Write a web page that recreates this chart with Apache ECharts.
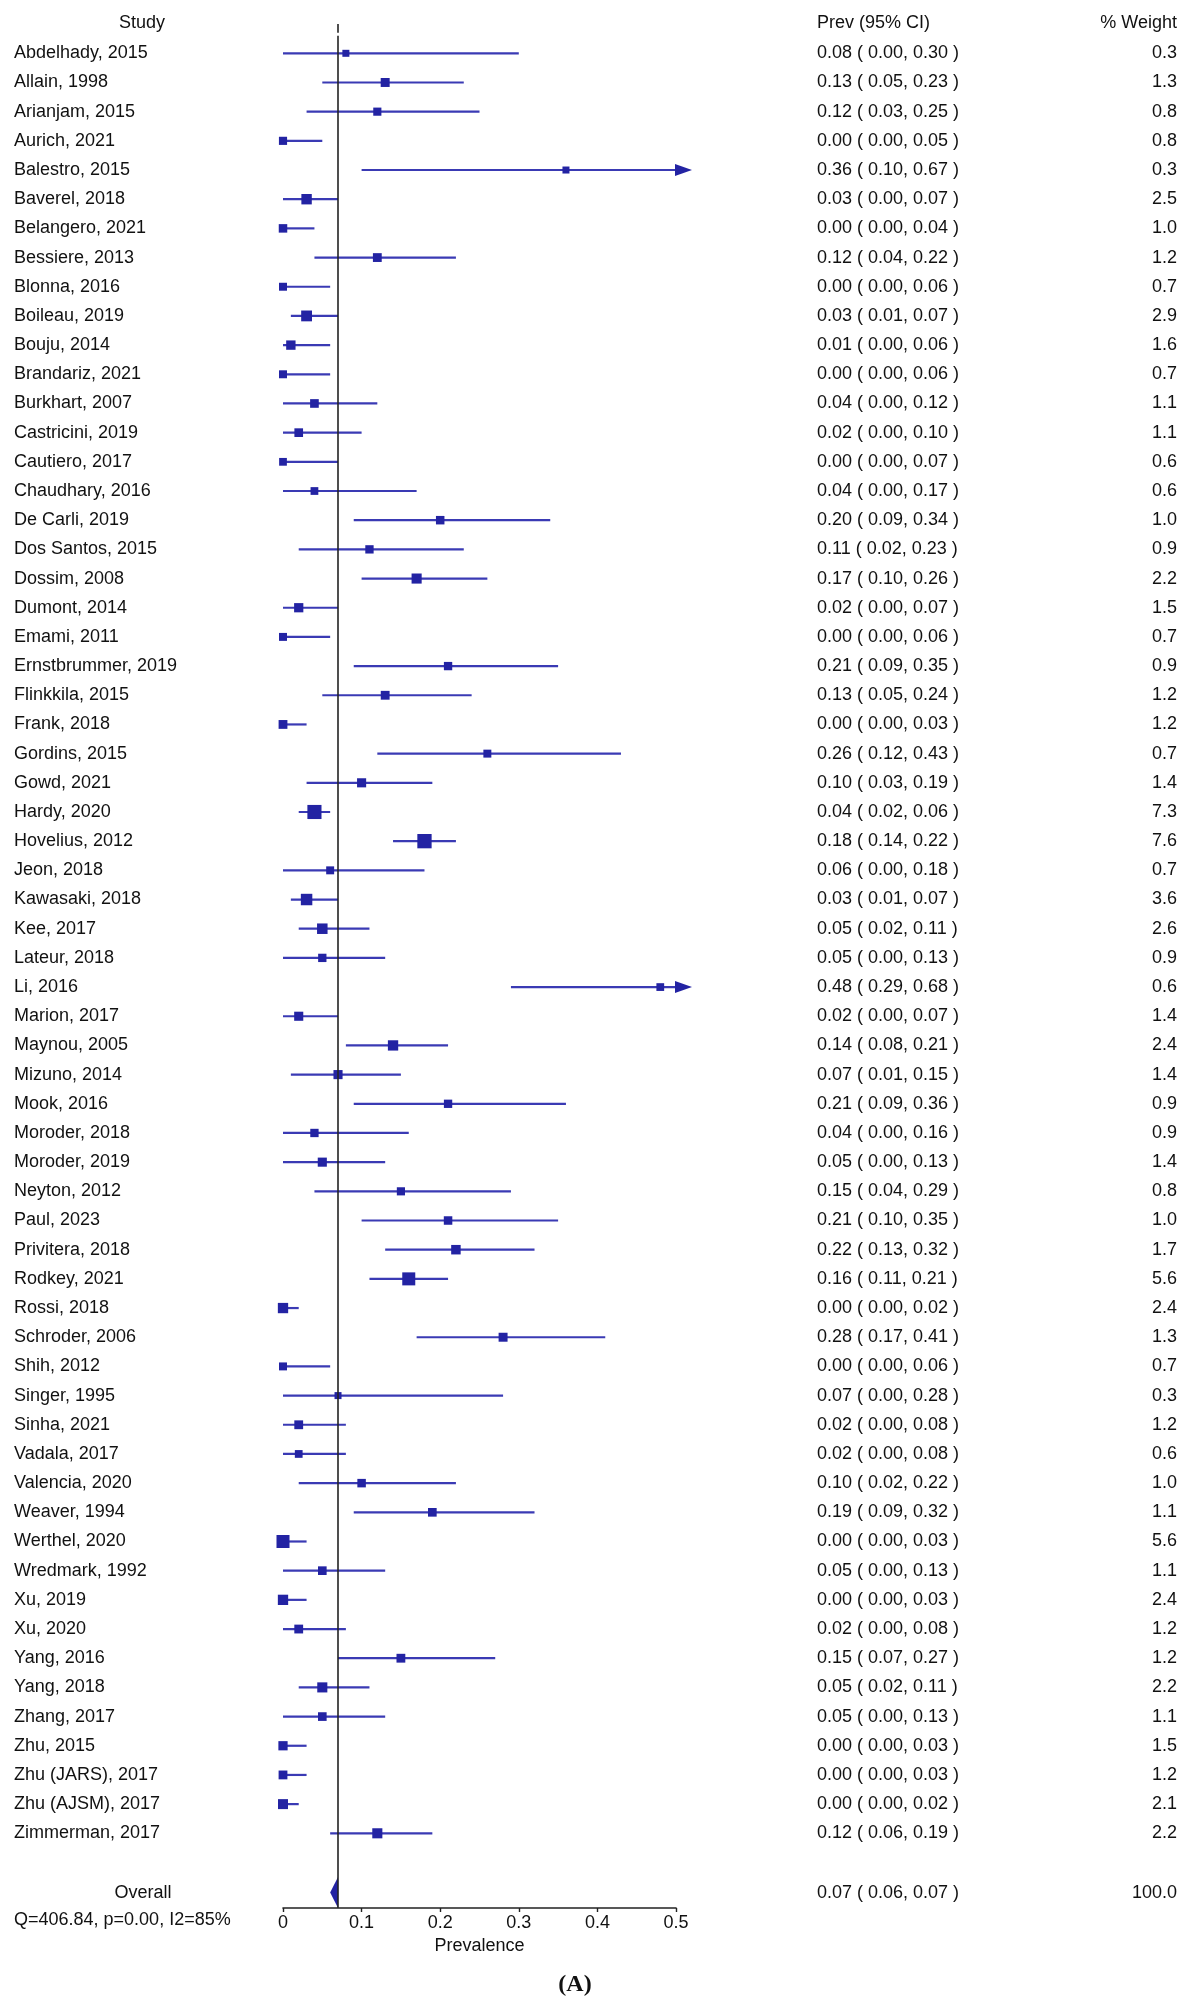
<!DOCTYPE html>
<html lang="en">
<head>
<meta charset="utf-8">
<title>Prevalence forest plot</title>
<style>
  html, body { margin: 0; padding: 0; background: #fff; }
  #chart { width: 1187px; height: 2006px; }
</style>
</head>
<body>
<div id="chart"></div>
<script src="https://cdn.jsdelivr.net/npm/echarts@6/dist/echarts.min.js"></script>
<script>
// study rows, top to bottom
var studies = [
  'Abdelhady, 2015', 'Allain, 1998', 'Arianjam, 2015', 'Aurich, 2021', 'Balestro, 2015',
  'Baverel, 2018', 'Belangero, 2021', 'Bessiere, 2013', 'Blonna, 2016', 'Boileau, 2019',
  'Bouju, 2014', 'Brandariz, 2021', 'Burkhart, 2007', 'Castricini, 2019', 'Cautiero, 2017',
  'Chaudhary, 2016', 'De Carli, 2019', 'Dos Santos, 2015', 'Dossim, 2008', 'Dumont, 2014',
  'Emami, 2011', 'Ernstbrummer, 2019', 'Flinkkila, 2015', 'Frank, 2018', 'Gordins, 2015',
  'Gowd, 2021', 'Hardy, 2020', 'Hovelius, 2012', 'Jeon, 2018', 'Kawasaki, 2018',
  'Kee, 2017', 'Lateur, 2018', 'Li, 2016', 'Marion, 2017', 'Maynou, 2005',
  'Mizuno, 2014', 'Mook, 2016', 'Moroder, 2018', 'Moroder, 2019', 'Neyton, 2012',
  'Paul, 2023', 'Privitera, 2018', 'Rodkey, 2021', 'Rossi, 2018', 'Schroder, 2006',
  'Shih, 2012', 'Singer, 1995', 'Sinha, 2021', 'Vadala, 2017', 'Valencia, 2020',
  'Weaver, 1994', 'Werthel, 2020', 'Wredmark, 1992', 'Xu, 2019', 'Xu, 2020',
  'Yang, 2016', 'Yang, 2018', 'Zhang, 2017', 'Zhu, 2015', 'Zhu (JARS), 2017',
  'Zhu (AJSM), 2017', 'Zimmerman, 2017'
];
// prevalence estimate
var prev = [
  0.08, 0.13, 0.12, 0.00, 0.36, 0.03, 0.00, 0.12, 0.00, 0.03,
  0.01, 0.00, 0.04, 0.02, 0.00, 0.04, 0.20, 0.11, 0.17, 0.02,
  0.00, 0.21, 0.13, 0.00, 0.26, 0.10, 0.04, 0.18, 0.06, 0.03,
  0.05, 0.05, 0.48, 0.02, 0.14, 0.07, 0.21, 0.04, 0.05, 0.15,
  0.21, 0.22, 0.16, 0.00, 0.28, 0.00, 0.07, 0.02, 0.02, 0.10,
  0.19, 0.00, 0.05, 0.00, 0.02, 0.15, 0.05, 0.05, 0.00, 0.00,
  0.00, 0.12
];
// 95% CI lower
var lower = [
  0.00, 0.05, 0.03, 0.00, 0.10, 0.00, 0.00, 0.04, 0.00, 0.01,
  0.00, 0.00, 0.00, 0.00, 0.00, 0.00, 0.09, 0.02, 0.10, 0.00,
  0.00, 0.09, 0.05, 0.00, 0.12, 0.03, 0.02, 0.14, 0.00, 0.01,
  0.02, 0.00, 0.29, 0.00, 0.08, 0.01, 0.09, 0.00, 0.00, 0.04,
  0.10, 0.13, 0.11, 0.00, 0.17, 0.00, 0.00, 0.00, 0.00, 0.02,
  0.09, 0.00, 0.00, 0.00, 0.00, 0.07, 0.02, 0.00, 0.00, 0.00,
  0.00, 0.06
];
// 95% CI upper
var upper = [
  0.30, 0.23, 0.25, 0.05, 0.67, 0.07, 0.04, 0.22, 0.06, 0.07,
  0.06, 0.06, 0.12, 0.10, 0.07, 0.17, 0.34, 0.23, 0.26, 0.07,
  0.06, 0.35, 0.24, 0.03, 0.43, 0.19, 0.06, 0.22, 0.18, 0.07,
  0.11, 0.13, 0.68, 0.07, 0.21, 0.15, 0.36, 0.16, 0.13, 0.29,
  0.35, 0.32, 0.21, 0.02, 0.41, 0.06, 0.28, 0.08, 0.08, 0.22,
  0.32, 0.03, 0.13, 0.03, 0.08, 0.27, 0.11, 0.13, 0.03, 0.03,
  0.02, 0.19
];
// % weight
var weight = [
  0.3, 1.3, 0.8, 0.8, 0.3, 2.5, 1.0, 1.2, 0.7, 2.9,
  1.6, 0.7, 1.1, 1.1, 0.6, 0.6, 1.0, 0.9, 2.2, 1.5,
  0.7, 0.9, 1.2, 1.2, 0.7, 1.4, 7.3, 7.6, 0.7, 3.6,
  2.6, 0.9, 0.6, 1.4, 2.4, 1.4, 0.9, 0.9, 1.4, 0.8,
  1.0, 1.7, 5.6, 2.4, 1.3, 0.7, 0.3, 1.2, 0.6, 1.0,
  1.1, 5.6, 1.1, 2.4, 1.2, 1.2, 2.2, 1.1, 1.5, 1.2,
  2.1, 2.2
];
// pooled result
var overallPrev = 0.07;
var overallLower = 0.06;
var overallUpper = 0.07;
var overallWeight = 100.0;
var heterogeneity = 'Q=406.84, p=0.00, I2=85%';

var xTicks = [0, 0.1, 0.2, 0.3, 0.4, 0.5];
var xTickLabels = ['0', '0.1', '0.2', '0.3', '0.4', '0.5'];

var FAMILY = '"Liberation Sans", Arial, Helvetica, sans-serif';
var FONT = '18px ' + FAMILY;
var LINE_COLOR = '#3a3ab4';
var BOX_COLOR = '#2323a3';
var TEXT_COLOR = '#111';
var overallRow = 63.03;

function fmt(v) { return v.toFixed(2); }

var ciData = [];
var textData = [];
for (var i = 0; i < studies.length; i++) {
  ciData.push([prev[i], i, lower[i], upper[i], weight[i]]);
  textData.push([0, i]);
}

var chart = echarts.init(document.getElementById('chart'), null, { renderer: 'canvas' });

function renderCI(params, api) {
  var est = api.value(0), row = api.value(1), lo = api.value(2), hi = api.value(3), w = api.value(4);
  var xMax = xTicks[xTicks.length - 1];
  var p = api.coord([est, row]);
  var y = p[1];
  var x0 = api.coord([lo, row])[0];
  var x1 = api.coord([Math.min(hi, xMax), row])[0];
  var children = [{
    type: 'line',
    shape: { x1: x0, y1: y, x2: x1, y2: y },
    style: { stroke: LINE_COLOR, lineWidth: 2.2 }
  }];
  if (hi > xMax) {
    // CI goes past the axis: draw an arrow head
    children.push({
      type: 'polygon',
      shape: { points: [[x1 - 1, y - 6], [x1 + 16, y], [x1 - 1, y + 6]] },
      style: { fill: BOX_COLOR }
    });
  }
  var s = 5.2 + 3.3 * Math.sqrt(w);
  children.push({
    type: 'rect',
    shape: { x: p[0] - s / 2, y: y - s / 2, width: s, height: s },
    style: { fill: BOX_COLOR }
  });
  return { type: 'group', children: children };
}

function renderText(params, api) {
  var i = params.dataIndex;
  var y = api.coord([0, api.value(1)])[1];
  return {
    type: 'group',
    children: [
      { type: 'text', style: { text: studies[i], x: 14, y: y, align: 'left', verticalAlign: 'middle', font: FONT, fill: TEXT_COLOR } },
      { type: 'text', style: { text: fmt(prev[i]) + ' ( ' + fmt(lower[i]) + ', ' + fmt(upper[i]) + ' )', x: 817, y: y, align: 'left', verticalAlign: 'middle', font: FONT, fill: TEXT_COLOR } },
      { type: 'text', style: { text: weight[i].toFixed(1), x: 1177, y: y, align: 'right', verticalAlign: 'middle', font: FONT, fill: TEXT_COLOR } }
    ]
  };
}

function renderOverall(params, api) {
  var est = api.value(0), row = api.value(1), lo = api.value(2), hi = api.value(3);
  var y = api.coord([est, row])[1];
  var xe = api.coord([est, row])[0];
  var xl = api.coord([lo, row])[0];
  var xh = api.coord([hi, row])[0];
  var h = 15.5;
  return {
    type: 'group',
    children: [
      { type: 'polygon', shape: { points: [[xl, y], [xe, y - h], [xh, y], [xe, y + h]] }, style: { fill: BOX_COLOR } },
      { type: 'text', style: { text: 'Overall', x: 143, y: y, align: 'center', verticalAlign: 'middle', font: FONT, fill: TEXT_COLOR } },
      { type: 'text', style: { text: fmt(est) + ' ( ' + fmt(lo) + ', ' + fmt(hi) + ' )', x: 817, y: y, align: 'left', verticalAlign: 'middle', font: FONT, fill: TEXT_COLOR } },
      { type: 'text', style: { text: overallWeight.toFixed(1), x: 1177, y: y, align: 'right', verticalAlign: 'middle', font: FONT, fill: TEXT_COLOR } }
    ]
  };
}

var option = {
  backgroundColor: '#fff',
  animation: false,
  grid: { left: 283, width: 393, top: 24.12, height: 1883.88, containLabel: false },
  xAxis: {
    type: 'value',
    min: xTicks[0],
    max: xTicks[xTicks.length - 1],
    interval: 0.1,
    splitLine: { show: false },
    axisLine: { show: true, onZero: false, lineStyle: { color: '#222', width: 1.6 } },
    axisTick: { show: true, inside: false, length: 4, lineStyle: { color: '#222', width: 1.4 } },
    axisLabel: {
      margin: 6, fontSize: 18, color: TEXT_COLOR, fontFamily: FAMILY,
      formatter: function (v) {
        var k = xTicks.indexOf(Math.round(v * 10) / 10);
        return k >= 0 ? xTickLabels[k] : '';
      }
    },
    name: 'Prevalence',
    nameLocation: 'middle',
    nameGap: 28,
    nameTextStyle: { fontSize: 18, color: TEXT_COLOR, fontFamily: FAMILY, verticalAlign: 'top' }
  },
  yAxis: { type: 'value', inverse: true, min: -1, max: 63.56, show: false },
  series: [
    {
      type: 'custom',
      name: 'studies',
      clip: false,
      data: ciData,
      encode: { x: [0, 2, 3], y: 1 },
      renderItem: renderCI,
      markLine: {
        silent: true,
        symbol: 'none',
        label: { show: false },
        lineStyle: { color: '#222', width: 1.6, type: 'solid' },
        data: [
          [{ coord: [overallPrev, -1] }, { coord: [overallPrev, -0.7] }],
          [{ coord: [overallPrev, -0.6] }, { coord: [overallPrev, 63.56] }]
        ]
      },
      z: 3
    },
    {
      type: 'custom',
      name: 'labels',
      clip: false,
      data: textData,
      encode: { x: 0, y: 1 },
      renderItem: renderText
    },
    {
      type: 'custom',
      name: 'overall',
      clip: false,
      data: [[overallPrev, overallRow, overallLower, overallUpper]],
      encode: { x: [0, 2, 3], y: 1 },
      renderItem: renderOverall,
      z: 4
    }
  ],
  graphic: [
    { type: 'text', style: { text: 'Study', x: 142, y: 23, align: 'center', verticalAlign: 'middle', font: FONT, fill: TEXT_COLOR } },
    { type: 'text', style: { text: 'Prev (95% CI)', x: 817, y: 23, align: 'left', verticalAlign: 'middle', font: FONT, fill: TEXT_COLOR } },
    { type: 'text', style: { text: '% Weight', x: 1177, y: 23, align: 'right', verticalAlign: 'middle', font: FONT, fill: TEXT_COLOR } },
    { type: 'text', style: { text: heterogeneity, x: 14, y: 1920, align: 'left', verticalAlign: 'middle', font: FONT, fill: TEXT_COLOR } },
    { type: 'text', style: { text: '(A)', x: 575, y: 1985, align: 'center', verticalAlign: 'middle', font: 'bold 24px "Liberation Serif", "Times New Roman", serif', fill: TEXT_COLOR } }
  ]
};

chart.setOption(option);
</script>
</body>
</html>
